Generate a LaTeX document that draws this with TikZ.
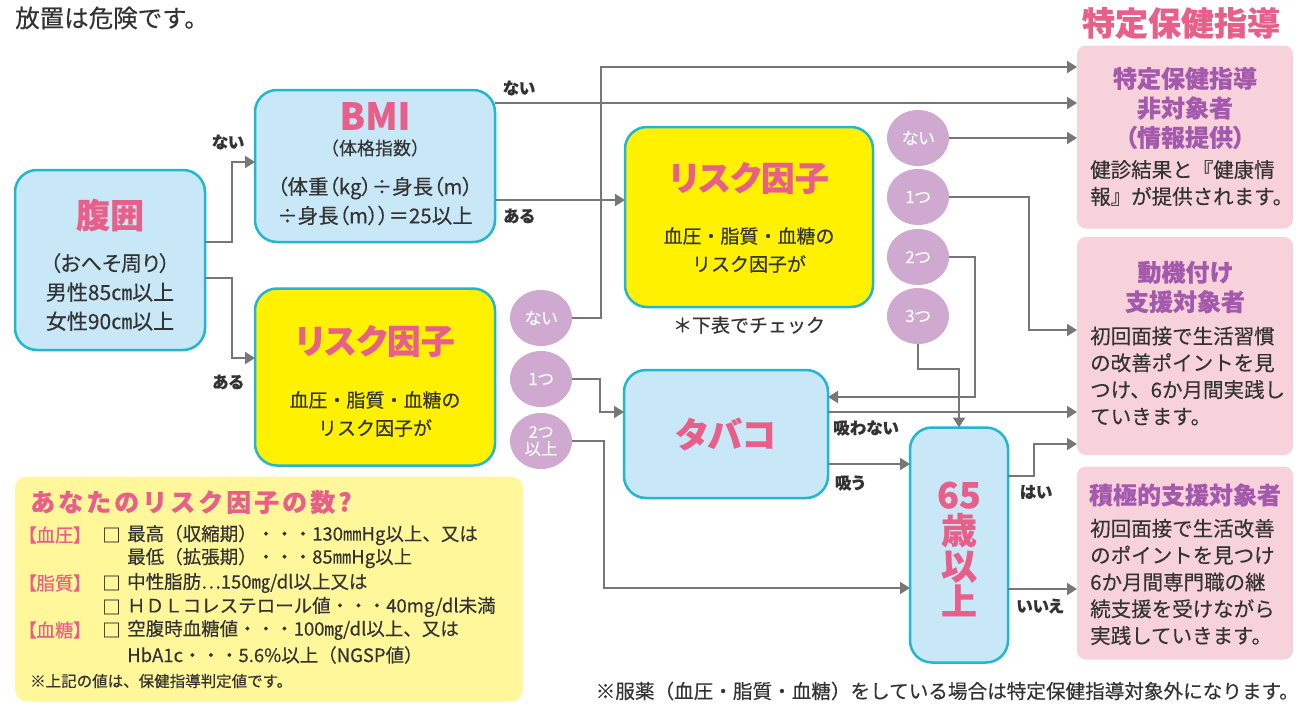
\documentclass[tikz,border=0pt]{standalone}
\usepackage{fontspec}
\setmainfont[RawFeature=+palt,FakeBold=0.3]{Noto Sans CJK JP}
\newfontfamily\fw[FakeBold=0.3]{Noto Sans CJK JP}
\usetikzlibrary{arrows.meta,shapes.geometric}
\definecolor{pinktxt}{HTML}{E8608A}
\definecolor{purptxt}{HTML}{A45AAC}
\definecolor{cyanb}{HTML}{22B6D0}
\definecolor{lblue}{HTML}{C8E8F8}
\definecolor{ryellow}{HTML}{FFF100}
\definecolor{lyellow}{HTML}{FFF79A}
\definecolor{lilac}{HTML}{CFA9CF}
\definecolor{pbox}{HTML}{F8D2DA}
\definecolor{lgray}{HTML}{777777}
\definecolor{dtext}{HTML}{333333}
\newcommand\fsz[2]{\fontsize{#1}{#2}\selectfont}
\newcommand\tightls{\lineskiplimit=-40pt\lineskip=0pt\relax}
\newcommand\wideltr{\addfontfeatures{LetterSpace=12}}
\begin{document}
\begin{tikzpicture}[x=1pt,y=-1pt,
  bluebox/.style={draw=cyanb,fill=lblue,line width=2.5pt,rounded corners=22pt,inner sep=0pt,outer sep=0pt},
  yelbox/.style={bluebox,fill=ryellow},
  pinkbox/.style={fill=pbox,rounded corners=9pt,inner sep=0pt,outer sep=0pt},
  circ/.style={ellipse,fill=lilac,minimum width=62pt,minimum height=56pt,inner sep=0pt,outer sep=0pt,text=white,font=\fsz{17}{17},align=center},
  conn/.style={draw=lgray,line width=2pt,-{Triangle[length=10pt,width=12pt]}},
  lbl/.style={font=\bfseries\fsz{16.5}{19},text=dtext,inner sep=0pt},
  ttl/.style={text=pinktxt,inner sep=0pt},
  body/.style={text=dtext,inner sep=0pt,font=\fw\fsz{19}{26.5}},
  pbody/.style={text=dtext,inner sep=0pt,align=left,anchor=west,font=\fw\fsz{20.5}{26.8}},
  ptl/.style={text=purptxt,inner sep=0pt,font=\bfseries\fsz{24}{29.5},align=center},
  info/.style={text=dtext,inner sep=0pt,anchor=west,font=\fw\fsz{18.5}{22}},
  infop/.style={text=pinktxt,inner sep=0pt,anchor=west,font=\fsz{18.5}{22}}
]
\useasboundingbox (0,0) rectangle (1300,707);

% top texts
\node[text=dtext,inner sep=0pt,anchor=west,font=\fw\fsz{24.5}{26}] (top) at (15,18) {放置は危険です。};
\node[ttl,font=\bfseries\fsz{33}{36}] (toptitle) at (1181,23) {特定保健指導};

% boxes
\node[bluebox,minimum width=190pt,minimum height=180pt] (haii) at (110,260) {};
\node[bluebox,minimum width=240pt,minimum height=152pt] (bmi) at (375,166) {};
\node[yelbox,minimum width=240pt,minimum height=177pt] (risk1) at (375,377) {};
\node[yelbox,minimum width=248pt,minimum height=180pt] (risk2) at (749,217) {};
\node[bluebox,minimum width=204pt,minimum height=128pt] (tabako) at (726,434) {};
\node[bluebox,minimum width=98pt,minimum height=235pt] (age) at (959,545) {};
\node[pinkbox,minimum width=216pt,minimum height=183pt] (pb1) at (1185,137) {};
\node[pinkbox,minimum width=216pt,minimum height=218pt] (pb2) at (1185,346) {};
\node[pinkbox,minimum width=216pt,minimum height=193pt] (pb3) at (1185,563) {};
\node[fill=lyellow,rounded corners=12pt,inner sep=0pt,minimum width=508pt,minimum height=225pt] (infobox) at (269,589) {};

% box texts
\node[ttl,font=\bfseries\fsz{34}{36}] (haiit) at (110,215) {腹囲};
\node[body,align=center,font=\fsz{21}{29}] (haiib) at (110,292) {（おへそ周り）\\男性85㎝以上\\女性90㎝以上};
\node[ttl,font=\bfseries\fsz{37}{38}] (bmit) at (375,116) {BMI};
\node[body,font=\fw\fsz{18}{20}] (bmis) at (375,148) {（体格指数）};
\node[body,align=center,font=\fsz{20.5}{29}] (bmib) at (375,201) {（体重（kg）÷身長（m）\\÷身長（m））＝25以上};
\node[ttl,font=\bfseries\fsz{34}{36}] (risk1t) at (375,341) {リスク因子};
\node[body,align=center,font=\fw\fsz{19}{28}] (risk1b) at (375,414) {血圧・脂質・血糖の\\リスク因子が};
\node[ttl,font=\bfseries\fsz{34}{36}] (risk2t) at (749,178) {リスク因子};
\node[body,align=center,font=\fw\fsz{19}{28}] (risk2b) at (749,250) {血圧・脂質・血糖の\\リスク因子が};
\node[body,font=\fw\fsz{19}{20}] (check) at (749,325) {＊下表でチェック};
\node[ttl,font=\bfseries\fsz{35}{38}] (tabakot) at (726,434) {タバコ};
\node[ttl,align=center,font=\bfseries\fsz{36}{35.5}\tightls] (aget) at (959,549) {65\\歳\\以\\上};

% pink box texts
\node[ptl] (pb1t) at (1185,108) {特定保健指導\\非対象者\\（情報提供）};
\node[pbody] (pb1b) at (1090,183) {健診結果と『健康情\\報』が提供されます。};
\node[ptl] (pb2t) at (1185,287) {動機付け\\支援対象者};
\node[pbody] (pb2b) at (1090,376) {初回面接で生活習慣\\の改善ポイントを見\\つけ、6か月間実践し\\ていきます。};
\node[ptl] (pb3t) at (1185,495) {積極的支援対象者};
\node[pbody] (pb3b) at (1090,582) {初回面接で生活改善\\のポイントを見つけ\\6か月間専門職の継\\続支援を受けながら\\実践していきます。};

% circles
\node[circ] (c1a) at (541,318) {ない};
\node[circ] (c1b) at (541,379) {1つ};
\node[circ,font=\fsz{16.5}{17}] (c1c) at (541,441) {2つ\\以上};
\node[circ] (c2a) at (918,138) {ない};
\node[circ] (c2b) at (918,197) {1つ};
\node[circ] (c2c) at (918,257) {2つ};
\node[circ] (c2d) at (918,316) {3つ};

% connectors
\draw[conn] (haii.east |- 0,242) -- (232,242) |- (bmi.west |- 0,162);
\draw[conn] (haii.east |- 0,278) -- (232,278) |- (risk1.west |- 0,358);
\draw[conn] (bmi.east |- 0,103) -- (pb1.west |- 0,103);
\draw[conn] (bmi.east |- 0,200) -- (risk2.west |- 0,200);
\draw[conn] (c1a.east) -- (601,318) |- (pb1.west |- 0,67);
\draw[conn] (c1b.east) -- (600,379) |- (tabako.west |- 0,412);
\draw[conn] (c1c.east) -- (604,441) |- (age.west |- 0,588);
\draw[conn] (c2a.east) -- (pb1.west |- c2a);
\draw[conn] (c2b.east) -- (1029,197) |- (pb2.west |- 0,330);
\draw[conn] (c2c.east) -- (975,257) |- (tabako.east |- 0,397);
\draw[conn] (c2d.south) -- (c2d.south |- 0,369) -| (age.north);
\draw[conn] (tabako.east |- 0,412) -- (pb2.west |- 0,412);
\draw[conn] (tabako.east |- 0,464) -- (age.west |- 0,464);
\draw[conn] (age.east |- 0,476) -- (1034,476) |- (pb2.west |- 0,444);
\draw[conn] (age.east |- 0,589) -- (pb3.west |- 0,589);

% labels
\node[lbl] (l1) at (228,142) {ない};
\node[lbl] (l2) at (228,382) {ある};
\node[lbl] (l3) at (519,88) {ない};
\node[lbl] (l4) at (519,216) {ある};
\node[lbl] (l5) at (866,428) {吸わない};
\node[lbl] (l6) at (850,483) {吸う};
\node[lbl] (l7) at (1036,492) {はい};
\node[lbl] (l8) at (1040,606) {いいえ};

% info box texts
\node[text=pinktxt,inner sep=0pt,anchor=west,font=\fw\bfseries\fsz{25}{27}\wideltr] (infot) at (30,502) {あなたのリスク因子の数?};
\node[infop] (i1a) at (27,535) {【血圧】};
\node[info] (i1b) at (102,535) {□};
\node[info] (i1c) at (127,535) {最高（収縮期）・・・130㎜Hg以上、又は};
\node[info] (i2c) at (127,558) {最低（拡張期）・・・85㎜Hg以上};
\node[infop] (i3a) at (27,583) {【脂質】};
\node[info] (i3b) at (102,583) {□};
\node[info] (i3c) at (127,583) {中性脂肪…150㎎/dl以上又は};
\node[info] (i4b) at (102,607) {□};
\node[info] (i4c) at (127,607) {ＨＤＬコレステロール値・・・40mg/dl未満};
\node[infop] (i5a) at (27,630) {【血糖】};
\node[info] (i5b) at (102,630) {□};
\node[info] (i5c) at (127,630) {空腹時血糖値・・・100㎎/dl以上、又は};
\node[info] (i6c) at (127,655) {HbA1c・・・5.6\%以上（NGSP値）};
\node[info,font=\fw\fsz{15.5}{18}] (i7) at (30,681) {※上記の値は、保健指導判定値です。};

% footnote
\node[text=dtext,inner sep=0pt,anchor=east,font=\fw\fsz{19.6}{20}] (foot) at (1299,691) {※服薬（血圧・脂質・血糖）をしている場合は特定保健指導対象外になります。};
\end{tikzpicture}
\end{document}
